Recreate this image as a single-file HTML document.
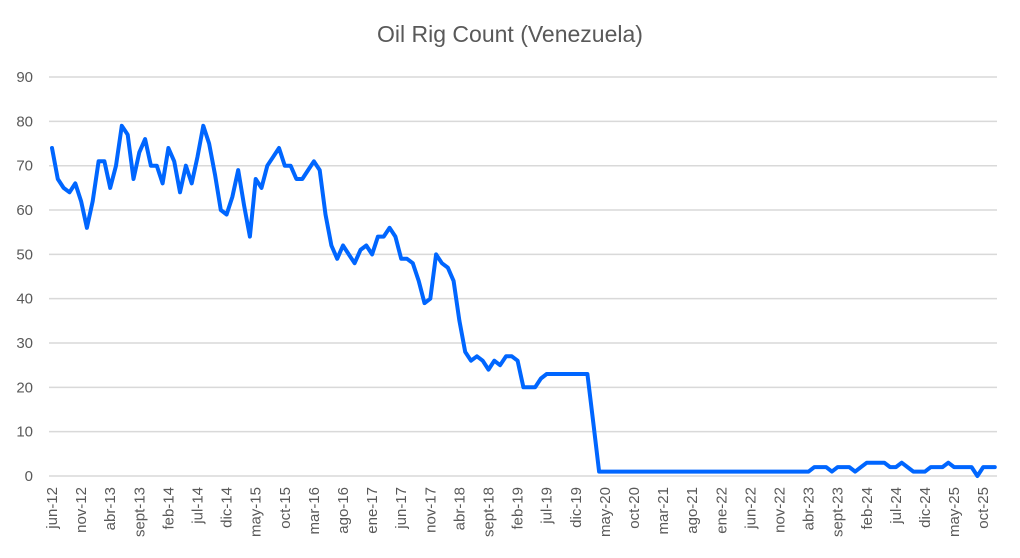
<!DOCTYPE html>
<html><head><meta charset="utf-8"><style>
html,body{margin:0;padding:0;background:#fff;}
svg{display:block;font-family:"Liberation Sans",sans-serif;}
</style></head><body>
<svg id="c" width="1020" height="558" xmlns="http://www.w3.org/2000/svg">
<text x="510" y="42" text-anchor="middle" font-size="23" fill="#595959">Oil Rig Count (Venezuela)</text>
<g id="grid" stroke="#d9d9d9" stroke-width="1.5"></g>
<g id="yl" font-size="15" fill="#595959" text-anchor="end"></g>
<g id="xl" font-size="15" fill="#595959"></g>
<polyline id="ln" fill="none" stroke="#0066ff" stroke-width="4" stroke-linejoin="round" stroke-linecap="round"/>
</svg>
<script>
var ns="http://www.w3.org/2000/svg";
function y(v){return 476-v*4.433;}
function x(i){return 52+i*5.82;}
var g=document.getElementById('grid'),yl=document.getElementById('yl'),xl=document.getElementById('xl');
for(var k=0;k<=9;k++){
 var l=document.createElementNS(ns,'line');l.setAttribute('x1',49);l.setAttribute('x2',997);
 l.setAttribute('y1',y(k*10));l.setAttribute('y2',y(k*10));g.appendChild(l);
 var t=document.createElementNS(ns,'text');t.setAttribute('x',33);t.setAttribute('y',y(k*10)+5);t.textContent=k*10;yl.appendChild(t);
}
var labs=["jun-12","nov-12","abr-13","sept-13","feb-14","jul-14","dic-14","may-15","oct-15","mar-16","ago-16","ene-17","jun-17","nov-17","abr-18","sept-18","feb-19","jul-19","dic-19","may-20","oct-20","mar-21","ago-21","ene-22","jun-22","nov-22","abr-23","sept-23","feb-24","jul-24","dic-24","may-25","oct-25"];
labs.forEach(function(s,j){
 var t=document.createElementNS(ns,'text');var xx=x(j*5)+5,yy=487;
 t.setAttribute('transform','translate('+xx+','+yy+') rotate(-90)');t.setAttribute('text-anchor','end');t.textContent=s;xl.appendChild(t);
});
var d=[74,67,65,64,66,62,56,62,71,71,65,70,79,77,67,73,76,70,70,66,74,71,64,70,66,72,79,75,68,60,59,63,69,61,54,67,65,70,72,74,70,70,67,67,69,71,69,59,52,49,52,50,48,51,52,50,54,54,56,54,49,49,48,44,39,40,50,48,47,44,35,28,26,27,26,24,26,25,27,27,26,20,20,20,22,23,23,23,23,23,23,23,23,12,1];
while(d.length<131)d.push(1);
d=d.concat([2,2,2,1,2,2,2,1,2,3,3,3,3,2,2,3,2,1,1,1,2,2,2,3,2,2,2,2,0,2,2,2]);
document.getElementById('ln').setAttribute('points',d.map(function(v,i){return x(i).toFixed(1)+','+y(v).toFixed(1);}).join(' '));
</script>
</body></html>
